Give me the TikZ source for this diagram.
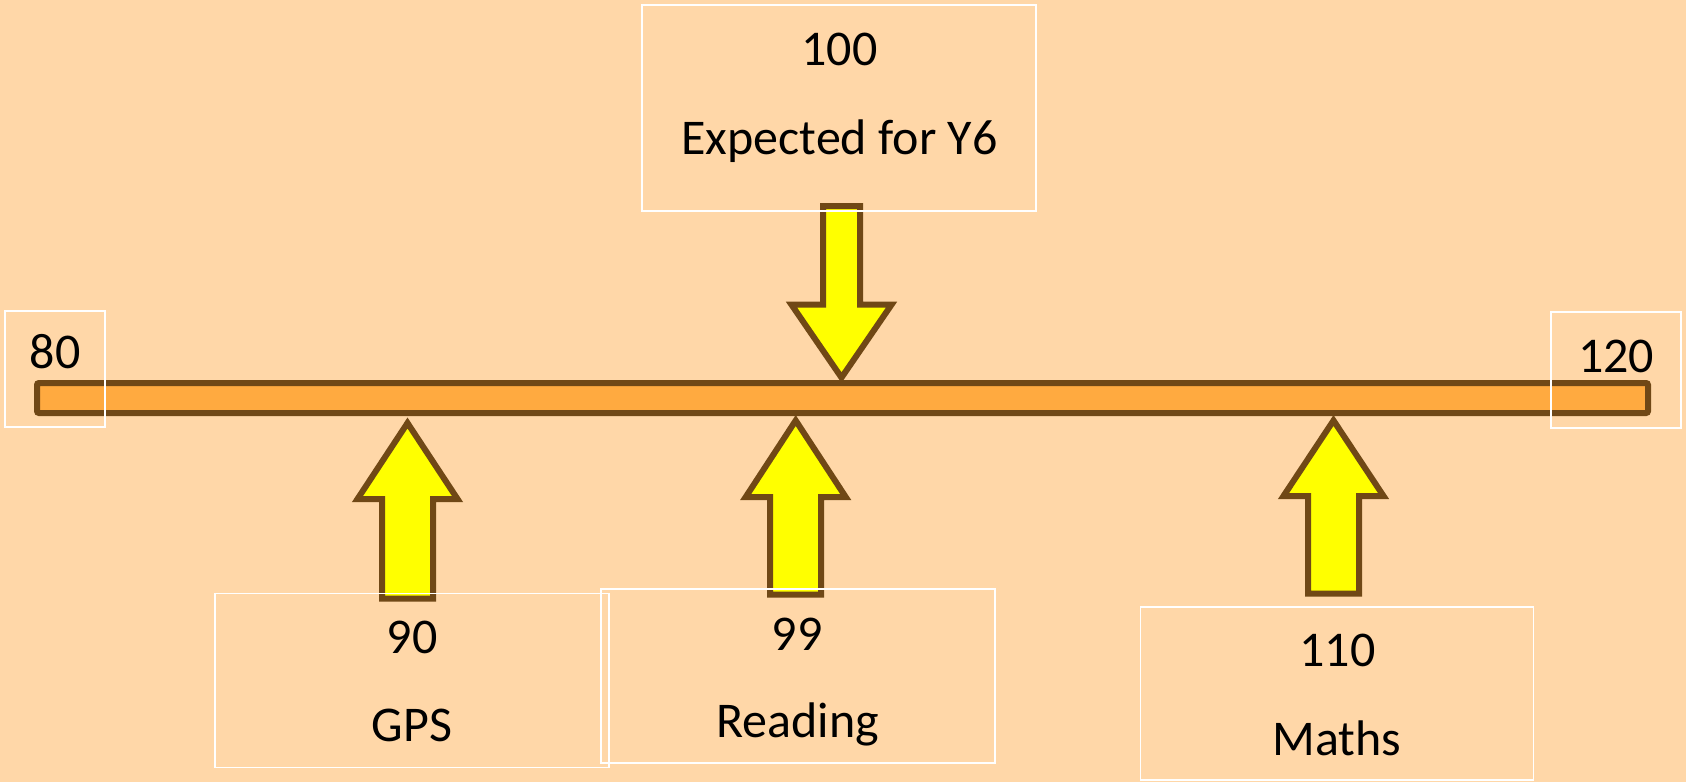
\documentclass[tikz,border=0pt]{standalone}
\usepackage{fontspec}
\setmainfont{Carlito}
\definecolor{peach}{RGB}{255,215,168}
\definecolor{barfill}{RGB}{255,170,64}
\definecolor{brownline}{RGB}{112,72,22}
\definecolor{arrfill}{RGB}{255,255,0}
\begin{document}
\begin{tikzpicture}[x=1pt,y=-1pt,
  box/.style={draw=white,line width=1.5pt,inner sep=0pt},
  lbl/.style={anchor=base,inner sep=0pt,font=\fontsize{50}{60}\selectfont},
  arr/.style={draw=brownline,fill=arrfill,line width=6pt,line join=miter}]
 \fill[peach] (0,0) rectangle (1686,782);
 \useasboundingbox (0,0) rectangle (1686,782);
 % scale bar
 \node[draw=brownline,fill=barfill,line width=6pt,rounded corners=2pt,inner sep=0pt,
   minimum width=1611pt,minimum height=30pt] (bar) at (842.5,398) {};
 % arrows
 \draw[arr] (841.5,377.6) -- ++(50,-72.9) -- ++(-31.5,0) -- ++(0,-98.7) -- ++(-37,0) -- ++(0,98.7) -- ++(-31.5,0) -- cycle;
 \draw[arr] (407.5,423) -- ++(50,76) -- ++(-24.5,0) -- ++(0,99.7) -- ++(-51,0) -- ++(0,-99.7) -- ++(-24.5,0) -- cycle;
 \draw[arr] (795.7,420.5) -- ++(50,76.5) -- ++(-24.5,0) -- ++(0,97.7) -- ++(-51,0) -- ++(0,-97.7) -- ++(-24.5,0) -- cycle;
 \draw[arr] (1333.5,420.5) -- ++(50,75.5) -- ++(-24.5,0) -- ++(0,97.7) -- ++(-51,0) -- ++(0,-97.7) -- ++(-24.5,0) -- cycle;
 % boxes
 \node[box,minimum width=394pt,minimum height=206pt] (top) at (839,108) {};
 \node[box,minimum width=100pt,minimum height=116pt] (left) at (55,369) {};
 \node[box,minimum width=130pt,minimum height=116pt] (right) at (1616,370) {};
 \node[box,minimum width=394pt,minimum height=174pt] (gps) at (412,680.5) {};
 \node[box,minimum width=394pt,minimum height=174pt] (read) at (798,676) {};
 \node[box,minimum width=393pt,minimum height=173pt] (maths) at (1337,693.5) {};
 % labels
 \node[lbl] (n80) at (55,368) {80};
 \node[lbl] (n120) at (1616,372) {120};
 \node[lbl] (n100) at (839.5,65) {100};
 \node[lbl] (ny6) at (839.5,154) {Expected for Y6};
 \node[lbl] (n90) at (412,653.3) {90};
 \node[lbl] (ngps) at (412,741.7) {GPS};
 \node[lbl] (n99) at (797,650) {99};
 \node[lbl] (nread) at (797.5,737.7) {Reading};
 \node[lbl] (n110) at (1337.5,666) {110};
 \node[lbl] (nmaths) at (1337,755) {Maths};
\end{tikzpicture}
\end{document}
